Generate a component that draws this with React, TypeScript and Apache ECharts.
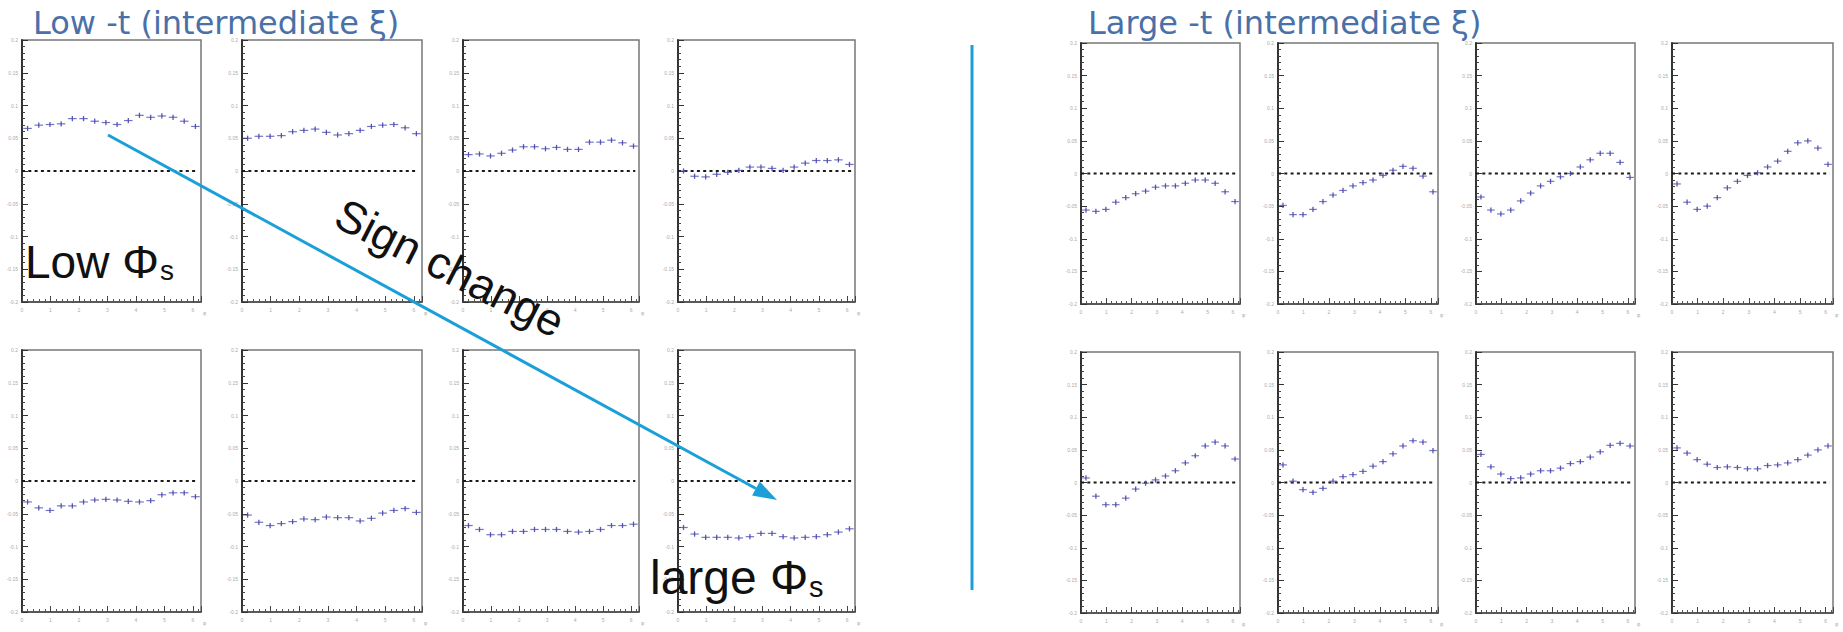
import React, { useEffect, useRef } from "react";
import * as echarts from "echarts";

// ---------------- data ----------------
// bin centres in phi (16 bins over 0..2pi)
const phiCenters = [0.196, 0.589, 0.982, 1.374, 1.767, 2.160, 2.553, 2.945, 3.338, 3.731, 4.123, 4.516, 4.909, 5.301, 5.694, 6.087];

// Low -t (intermediate xi): top row (low phi_s) -> bottom row (large phi_s)
const lowT1 = [0.065, 0.070, 0.071, 0.072, 0.080, 0.080, 0.076, 0.074, 0.071, 0.077, 0.085, 0.082, 0.084, 0.082, 0.076, 0.068];
const lowT2 = [0.050, 0.053, 0.053, 0.054, 0.060, 0.062, 0.064, 0.059, 0.055, 0.057, 0.062, 0.068, 0.070, 0.071, 0.066, 0.057];
const lowT3 = [0.025, 0.026, 0.023, 0.027, 0.032, 0.037, 0.037, 0.034, 0.036, 0.033, 0.033, 0.044, 0.044, 0.047, 0.043, 0.038];
const lowT4 = [0.000, -0.008, -0.009, -0.005, -0.002, 0.001, 0.006, 0.006, 0.004, 0.001, 0.006, 0.012, 0.016, 0.016, 0.017, 0.010];
const lowT5 = [-0.032, -0.041, -0.045, -0.038, -0.038, -0.032, -0.029, -0.028, -0.029, -0.031, -0.032, -0.030, -0.021, -0.018, -0.018, -0.024];
const lowT6 = [-0.052, -0.063, -0.068, -0.065, -0.062, -0.058, -0.059, -0.055, -0.056, -0.056, -0.061, -0.057, -0.049, -0.045, -0.042, -0.048];
const lowT7 = [-0.068, -0.074, -0.082, -0.082, -0.077, -0.077, -0.074, -0.074, -0.074, -0.077, -0.078, -0.077, -0.074, -0.068, -0.068, -0.066];
const lowT8 = [-0.071, -0.081, -0.086, -0.086, -0.086, -0.087, -0.085, -0.080, -0.080, -0.085, -0.087, -0.086, -0.085, -0.082, -0.078, -0.073];

// Large -t (intermediate xi)
const largeT1 = [-0.056, -0.058, -0.055, -0.044, -0.037, -0.031, -0.027, -0.021, -0.019, -0.019, -0.015, -0.010, -0.010, -0.015, -0.028, -0.043];
const largeT2 = [-0.049, -0.063, -0.063, -0.055, -0.043, -0.033, -0.026, -0.019, -0.014, -0.010, -0.003, 0.005, 0.011, 0.008, -0.004, -0.028];
const largeT3 = [-0.036, -0.056, -0.062, -0.056, -0.042, -0.030, -0.019, -0.012, -0.005, 0.000, 0.010, 0.021, 0.031, 0.031, 0.017, -0.006];
const largeT4 = [-0.016, -0.044, -0.055, -0.050, -0.037, -0.022, -0.012, -0.003, 0.001, 0.010, 0.019, 0.034, 0.047, 0.050, 0.039, 0.014];
const largeT5 = [0.007, -0.021, -0.034, -0.034, -0.024, -0.010, -0.001, 0.004, 0.010, 0.018, 0.030, 0.041, 0.056, 0.062, 0.056, 0.036];
const largeT6 = [0.027, 0.002, -0.011, -0.015, -0.009, 0.002, 0.009, 0.012, 0.017, 0.025, 0.032, 0.044, 0.056, 0.064, 0.062, 0.049];
const largeT7 = [0.043, 0.024, 0.013, 0.006, 0.007, 0.013, 0.018, 0.018, 0.022, 0.029, 0.032, 0.039, 0.047, 0.057, 0.060, 0.056];
const largeT8 = [0.053, 0.045, 0.035, 0.028, 0.023, 0.024, 0.023, 0.021, 0.021, 0.026, 0.027, 0.030, 0.035, 0.042, 0.050, 0.056];

const statError = 0.004;

const yMin = -0.2;
const yMax = 0.2;
const yStep = 0.05;
const xMin = 0;
const xMax = 6.2832;
const xStep = 1;
const zeroLineEnd = 6.15;

const lowTitle = "Low -t (intermediate ξ)";
const largeTitle = "Large -t (intermediate ξ)";

// ---------------- layout ----------------
const leftCols = [
  { x: 22, w: 179 },
  { x: 242, w: 180 },
  { x: 463, w: 176 },
  { x: 678, w: 177 },
];
const rightCols = [
  { x: 1081, w: 159 },
  { x: 1278, w: 160 },
  { x: 1476, w: 159 },
  { x: 1672, w: 161 },
];
const leftRows = [
  { y: 40, h: 262 },
  { y: 350, h: 262 },
];
const rightRows = [
  { y: 43, h: 261 },
  { y: 352, h: 261 },
];

const POINT_COLOR = "#4646ae";
const BLUE = "#1b9fd8";
const TITLE_BLUE = "#4a70a8";
const HALF_BIN = 0.15;

export default function App() {
  const ref = useRef<HTMLDivElement>(null);

  useEffect(() => {
    if (!ref.current) return;
    const chart = echarts.init(ref.current, undefined, { renderer: "svg" });

    const panels: { data: number[]; col: { x: number; w: number }; row: { y: number; h: number } }[] = [];
    const lowSets = [lowT1, lowT2, lowT3, lowT4, lowT5, lowT6, lowT7, lowT8];
    const largeSets = [largeT1, largeT2, largeT3, largeT4, largeT5, largeT6, largeT7, largeT8];
    lowSets.forEach((d, i) => panels.push({ data: d, col: leftCols[i % 4], row: leftRows[Math.floor(i / 4)] }));
    largeSets.forEach((d, i) => panels.push({ data: d, col: rightCols[i % 4], row: rightRows[Math.floor(i / 4)] }));

    const grid: any[] = [];
    const xAxis: any[] = [];
    const yAxis: any[] = [];
    const series: any[] = [];

    panels.forEach((p, i) => {
      grid.push({
        left: p.col.x,
        top: p.row.y,
        width: p.col.w,
        height: p.row.h,
        show: true,
        borderColor: "#777",
        borderWidth: 1.5,
        backgroundColor: "transparent",
      });
      xAxis.push({
        type: "value",
        gridIndex: i,
        min: xMin,
        max: xMax,
        interval: xStep,
        axisLine: { show: true, onZero: false, lineStyle: { color: "#444", width: 1.5 } },
        axisTick: { show: true, inside: true, length: 6, lineStyle: { color: "#444", width: 1 } },
        minorTick: { show: true, splitNumber: 5, length: 3, lineStyle: { color: "#555", width: 1 } },
        splitLine: { show: false },
        minorSplitLine: { show: false },
        axisLabel: { show: true, fontSize: 5, color: "#aaa", margin: 5, showMaxLabel: false },
        name: "φ",
        nameLocation: "end",
        nameGap: 2,
        nameTextStyle: { fontSize: 5, color: "#aaa", verticalAlign: "top", padding: [8, 0, 0, 0] },
      });
      yAxis.push({
        type: "value",
        gridIndex: i,
        min: yMin,
        max: yMax,
        interval: yStep,
        axisLine: { show: true, onZero: false, lineStyle: { color: "#333", width: 2 } },
        axisTick: { show: true, inside: true, length: 6, lineStyle: { color: "#333", width: 1 } },
        minorTick: { show: true, splitNumber: 5, length: 3, lineStyle: { color: "#444", width: 1 } },
        splitLine: { show: false },
        minorSplitLine: { show: false },
        axisLabel: { show: true, fontSize: 5, color: "#aaa", margin: 4 },
      });
      series.push({
        type: "line",
        xAxisIndex: i,
        yAxisIndex: i,
        data: [
          [xMin, 0],
          [zeroLineEnd, 0],
        ],
        symbol: "none",
        silent: true,
        lineStyle: { color: "#1a1a1a", width: 2.2, type: [3, 3.3] },
        z: 2,
      });
      series.push({
        type: "custom",
        xAxisIndex: i,
        yAxisIndex: i,
        data: p.data.map((v, k) => [phiCenters[k], v, statError]),
        renderItem: (params: any, api: any) => {
          const x = api.value(0);
          const y = api.value(1);
          const e = api.value(2);
          const l = api.coord([x - HALF_BIN, y]);
          const r = api.coord([x + HALF_BIN, y]);
          const t = api.coord([x, y + e]);
          const b = api.coord([x, y - e]);
          return {
            type: "group",
            children: [
              {
                type: "line",
                shape: { x1: l[0], y1: l[1], x2: r[0], y2: r[1] },
                style: { stroke: POINT_COLOR, lineWidth: 1.2, opacity: 0.75 },
              },
              {
                type: "line",
                shape: { x1: t[0], y1: t[1], x2: b[0], y2: b[1] },
                style: { stroke: POINT_COLOR, lineWidth: 1.3, opacity: 0.9 },
              },
            ],
          };
        },
        z: 3,
      });
    });

    // arrow
    const a0 = [108, 135];
    const a1 = [777, 500];
    const dx = a1[0] - a0[0];
    const dy = a1[1] - a0[1];
    const len = Math.sqrt(dx * dx + dy * dy);
    const ux = dx / len;
    const uy = dy / len;
    const headL = 24;
    const headW = 8;
    const bx = a1[0] - ux * headL;
    const by = a1[1] - uy * headL;

    const graphic: any[] = [
      {
        type: "text",
        left: 33,
        top: 7,
        style: { text: lowTitle, fontFamily: "DejaVu Sans", fontSize: 32, fill: TITLE_BLUE },
      },
      {
        type: "text",
        left: 1088,
        top: 7,
        style: { text: largeTitle, fontFamily: "DejaVu Sans", fontSize: 32, fill: TITLE_BLUE },
      },
      {
        type: "line",
        shape: { x1: a0[0], y1: a0[1], x2: bx, y2: by },
        style: { stroke: BLUE, lineWidth: 3 },
        z: 10,
      },
      {
        type: "polygon",
        shape: {
          points: [
            [a1[0], a1[1]],
            [bx - uy * headW, by + ux * headW],
            [bx + uy * headW, by - ux * headW],
          ],
        },
        style: { fill: BLUE },
        z: 10,
      },
      {
        type: "line",
        shape: { x1: 972, y1: 45, x2: 972, y2: 590 },
        style: { stroke: BLUE, lineWidth: 3 },
        z: 10,
      },
      {
        type: "text",
        x: 450,
        y: 268,
        rotation: (-27 * Math.PI) / 180,
        style: {
          text: "Sign change",
          fontFamily: "Liberation Sans",
          fontSize: 45,
          fill: "#111",
          align: "center",
          verticalAlign: "middle",
        },
        z: 11,
      },
      {
        type: "text",
        x: 25,
        y: 262,
        style: { text: "Low Φ", fontFamily: "Liberation Sans", fontSize: 46, fill: "#111", align: "left", verticalAlign: "middle" },
        z: 11,
      },
      {
        type: "text",
        x: 160,
        y: 270,
        style: { text: "s", fontFamily: "Liberation Sans", fontSize: 28, fill: "#111", align: "left", verticalAlign: "middle" },
        z: 11,
      },
      {
        type: "text",
        x: 650,
        y: 577,
        style: { text: "large Φ", fontFamily: "Liberation Sans", fontSize: 48, fill: "#111", align: "left", verticalAlign: "middle" },
        z: 11,
      },
      {
        type: "text",
        x: 809,
        y: 587,
        style: { text: "s", fontFamily: "Liberation Sans", fontSize: 29, fill: "#111", align: "left", verticalAlign: "middle" },
        z: 11,
      },
    ];

    chart.setOption({
      animation: false,
      backgroundColor: "#fff",
      grid,
      xAxis,
      yAxis,
      series,
      graphic,
    });

    return () => chart.dispose();
  }, []);

  return (
    <div
      ref={ref}
      style={{ position: "fixed", left: 0, top: 0, width: 1843, height: 632 }}
    />
  );
}
